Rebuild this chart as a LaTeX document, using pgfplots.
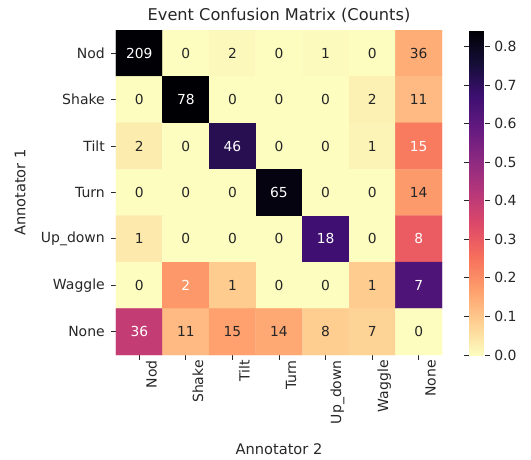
\documentclass[border=0pt]{standalone}
\usepackage{pgfplots}
\pgfplotsset{compat=1.18}
\usepackage{pgfplotstable}
\usepackage{fontspec}
\setmainfont{DejaVu Sans}
\definecolor{tc}{gray}{0.15}

% x y count normalized(row)
\pgfplotstableread{
x y c v
0 0 209 0.8427
1 0 0 0
2 0 2 0.0081
3 0 0 0
4 0 1 0.0040
5 0 0 0
6 0 36 0.1452
0 1 0 0
1 1 78 0.8571
2 1 0 0
3 1 0 0
4 1 0 0
5 1 2 0.0220
6 1 11 0.1209
0 2 2 0.0313
1 2 0 0
2 2 46 0.7188
3 2 0 0
4 2 0 0
5 2 1 0.0156
6 2 15 0.2344
0 3 0 0
1 3 0 0
2 3 0 0
3 3 65 0.8228
4 3 0 0
5 3 0 0
6 3 14 0.1772
0 4 1 0.0370
1 4 0 0
2 4 0 0
3 4 0 0
4 4 18 0.6667
5 4 0 0
6 4 8 0.2963
0 5 0 0
1 5 2 0.1818
2 5 1 0.0909
3 5 0 0
4 5 0 0
5 5 1 0.0909
6 5 7 0.6364
0 6 36 0.3956
1 6 11 0.1209
2 6 15 0.1648
3 6 14 0.1538
4 6 8 0.0879
5 6 7 0.0769
6 6 0 0
}\cm

\pgfplotstableread{
x y c
0 0 209
1 1 78
2 2 46
6 2 15
3 3 65
4 4 18
6 4 8
1 5 2
6 5 7
0 6 36
}\whitetxt

\pgfplotstableread{
x y c
1 0 0
2 0 2
3 0 0
4 0 1
5 0 0
6 0 36
0 1 0
2 1 0
3 1 0
4 1 0
5 1 2
6 1 11
0 2 2
1 2 0
3 2 0
4 2 0
5 2 1
0 3 0
1 3 0
2 3 0
4 3 0
5 3 0
6 3 14
0 4 1
1 4 0
2 4 0
3 4 0
5 4 0
0 5 0
2 5 1
3 5 0
4 5 0
5 5 1
1 6 11
2 6 15
3 6 14
4 6 8
5 6 7
6 6 0
}\darktxt

\begin{document}
\begin{tikzpicture}[x=1pt,y=1pt]
\path[use as bounding box] (0,0) rectangle (531,459);
\begin{axis}[
  at={(116pt,104pt)}, anchor=south west,
  scale only axis, width=326pt, height=325pt,
  xmin=-0.5, xmax=6.5, ymin=-0.5, ymax=6.5,
  y dir=reverse,
  axis line style={draw=none},
  tick pos=left, tick align=outside,
  major tick length=5pt,
  tick style={draw=tc, line width=0.9pt},
  xtick={0,...,6}, ytick={0,...,6},
  xticklabels={Nod,Shake,Tilt,Turn,Up\_down,Waggle,None},
  yticklabels={Nod,Shake,Tilt,Turn,Up\_down,Waggle,None},
  xticklabel style={rotate=90, anchor=east, font=\fontsize{14}{16}\selectfont, text=tc, inner sep=0pt, xshift=0pt, yshift=-12pt},
  yticklabel style={font=\fontsize{14}{16}\selectfont, text=tc, inner sep=0pt, xshift=-6pt},
  xlabel={Annotator 2}, ylabel={Annotator 1},
  xlabel style={at={(axis description cs:0.5,-0.289)}, anchor=center, font=\fontsize{14.6}{17}\selectfont, text=tc},
  ylabel style={at={(axis description cs:-0.294,0.5)}, anchor=center, rotate=0, font=\fontsize{14.6}{17}\selectfont, text=tc},
  title={Event Confusion Matrix (Counts)},
  title style={at={(axis description cs:0.5,1.046)}, anchor=center, yshift=-6pt, font=\fontsize{16.2}{19}\selectfont, text=tc},
  colormap={magmar}{
    rgb=(0.987053,0.991438,0.749504)
    rgb=(0.995131,0.812998,0.572014)
    rgb=(0.994738,0.624350,0.427397)
    rgb=(0.967671,0.439703,0.359810)
    rgb=(0.868793,0.287728,0.409303)
    rgb=(0.716387,0.214982,0.475290)
    rgb=(0.550287,0.161158,0.505719)
    rgb=(0.390384,0.100379,0.501864)
    rgb=(0.232077,0.059889,0.437695)
    rgb=(0.078815,0.054184,0.211667)
    rgb=(0.001462,0.000466,0.013866)
  },
  point meta min=0, point meta max=0.843,
  colorbar,
  colorbar style={
    at={(1.083,1)}, anchor=north west,
    width=16pt,
    axis line style={draw=none},
    tick align=outside, major tick length=5pt,
    tick style={draw=tc, line width=0.9pt},
    ytick={0,0.1,0.2,0.3,0.4,0.5,0.6,0.7,0.8},
    yticklabel style={font=\fontsize{14}{16}\selectfont, text=tc, inner sep=0pt, xshift=4pt,
      /pgf/number format/fixed, /pgf/number format/precision=1,
      /pgf/number format/fixed zerofill, /pgf/number format/assume math mode=true},
  },
]
\addplot[matrix plot*, mesh/cols=7, point meta=explicit] table[x=x, y=y, meta=v] {\cm};
\addplot[only marks, mark=none, point meta=explicit symbolic,
  nodes near coords,
  every node near coord/.append style={anchor=center, font=\fontsize{13.8}{16}\selectfont, text=white}]
  table[x=x, y=y, meta=c] {\whitetxt};
\addplot[only marks, mark=none, point meta=explicit symbolic,
  nodes near coords,
  every node near coord/.append style={anchor=center, font=\fontsize{13.8}{16}\selectfont, text=tc}]
  table[x=x, y=y, meta=c] {\darktxt};
\end{axis}
\end{tikzpicture}
\end{document}
